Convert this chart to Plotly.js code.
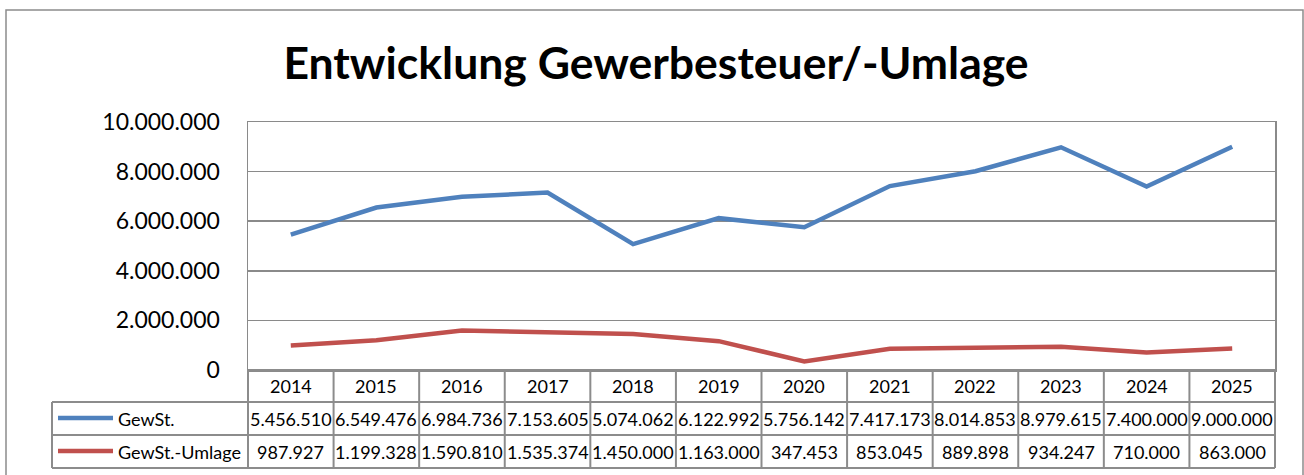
<!DOCTYPE html>
<html>
<head>
<meta charset="utf-8">
<script src="https://cdn.plot.ly/plotly-3.0.1.min.js"></script>
<style>
html,body{margin:0;padding:0;background:#fff;}
#chart{width:1304px;height:475px;}
</style>
</head>
<body>
<div id="chart"></div>
<script>
// ---- data ----
const years = ['2014','2015','2016','2017','2018','2019','2020','2021','2022','2023','2024','2025'];
const gewSt = [5456510, 6549476, 6984736, 7153605, 5074062, 6122992, 5756142, 7417173, 8014853, 8979615, 7400000, 9000000];
const gewStUmlage = [987927, 1199328, 1590810, 1535374, 1450000, 1163000, 347453, 853045, 889898, 934247, 710000, 863000];
const seriesNames = ['GewSt.', 'GewSt.-Umlage'];
const titleText = 'Entwicklung Gewerbesteuer/-Umlage';

// ---- layout helpers (pixel -> paper) ----
const W = 1304, H = 475;
const px = v => v / W;
const py = v => 1 - v / H;
const FONT = 'Lato, "Open Sans", sans-serif';
const BLUE = '#4F81BD', RED = '#C0504D';
const GRID = '#8a8a8a';

const plotL = 248, plotR = 1275, plotT = 122, plotB = 370;
const rowHeadB = 402, row1B = 435, row2B = 468, tableL = 52;

function fmt(n){
  const s = String(Math.round(n));
  return s.replace(/\B(?=(\d{3})+(?!\d))/g, '.');
}

const traces = [
  {x: years, y: gewSt, name: seriesNames[0], type: 'scatter', mode: 'lines',
   line: {color: BLUE, width: 4.5}},
  {x: years, y: gewStUmlage, name: seriesNames[1], type: 'scatter', mode: 'lines',
   line: {color: RED, width: 4.5}}
];

const shapes = [];
const lineStyle = {color: '#8c8c8c', width: 2};
function hline(x0, x1, y){ shapes.push({type:'line', xref:'paper', yref:'paper', x0:px(x0), x1:px(x1), y0:py(y), y1:py(y), line:lineStyle}); }
function vline(x, y0, y1){ shapes.push({type:'line', xref:'paper', yref:'paper', x0:px(x), x1:px(x), y0:py(y0), y1:py(y1), line:lineStyle}); }

// outer chart border
shapes.push({type:'rect', xref:'paper', yref:'paper', x0:px(6), x1:px(1303), y0:py(10), y1:py(490),
  line:{color:'#8c8c8c', width:1.5}, fillcolor:'rgba(0,0,0,0)', layer:'below'});

// table grid
hline(plotL, plotR, plotB);
hline(tableL, plotR, rowHeadB);
hline(tableL, plotR, row1B);
hline(tableL, plotR, row2B);
vline(tableL, rowHeadB, row2B);
const colW = (plotR - plotL) / years.length;
for (let i = 0; i <= years.length; i++) {
  vline(plotL + i * colW, plotB, row2B);
}
// legend keys
shapes.push({type:'line', xref:'paper', yref:'paper', x0:px(58), x1:px(113), y0:py(418), y1:py(418), line:{color:BLUE, width:4.5}});
shapes.push({type:'line', xref:'paper', yref:'paper', x0:px(58), x1:px(113), y0:py(451), y1:py(451), line:{color:RED, width:4.5}});

const annotations = [];
const cellFont = {family: FONT, size: 18, color: '#000'};
years.forEach((yr, i) => {
  annotations.push({x: i, xref:'x', y: py((plotB + rowHeadB)/2), yref:'paper', text: yr, showarrow:false, font: cellFont, xanchor:'center', yanchor:'middle'});
  annotations.push({x: i, xref:'x', y: py((rowHeadB + row1B)/2), yref:'paper', text: fmt(gewSt[i]), showarrow:false, font: cellFont, xanchor:'center', yanchor:'middle'});
  annotations.push({x: i, xref:'x', y: py((row1B + row2B)/2), yref:'paper', text: fmt(gewStUmlage[i]), showarrow:false, font: cellFont, xanchor:'center', yanchor:'middle'});
});
annotations.push({x: px(116), xref:'paper', y: py((rowHeadB + row1B)/2), yref:'paper', text: seriesNames[0], showarrow:false, font: cellFont, xanchor:'left', yanchor:'middle'});
annotations.push({x: px(116), xref:'paper', y: py((row1B + row2B)/2), yref:'paper', text: seriesNames[1], showarrow:false, font: cellFont, xanchor:'left', yanchor:'middle'});

const layout = {
  width: W, height: H,
  margin: {l:0, r:0, t:0, b:0},
  paper_bgcolor: '#fff', plot_bgcolor: '#fff',
  separators: ',.',
  showlegend: false,
  title: {text: '<b>' + titleText + '</b>', x: 656/W, xanchor: 'center', y: py(63), yanchor: 'middle',
    font: {family: FONT, size: 44.5, color: '#000'}},
  xaxis: {type:'category', domain:[px(plotL), px(plotR)], range:[-0.5, years.length - 0.5],
    showticklabels:false, ticks:'', showgrid:false, zeroline:false, showline:true, mirror:true,
    linecolor: GRID, linewidth: 1.5, fixedrange:true},
  yaxis: {domain:[py(plotB), py(plotT)], range:[0, 10000000], dtick: 2000000, tick0: 0,
    tickformat: ',d', showgrid:true, gridcolor: GRID, gridwidth: 1.5, zeroline:false,
    showline:true, mirror:true, linecolor: GRID, linewidth: 1.5,
    ticks:'', ticklabelstandoff: 22,
    tickfont: {family: FONT, size: 23, color:'#000'}, fixedrange:true},
  shapes: shapes,
  annotations: annotations
};

Plotly.newPlot('chart', traces, layout, {staticPlot:true, displayModeBar:false});
</script>
</body>
</html>
